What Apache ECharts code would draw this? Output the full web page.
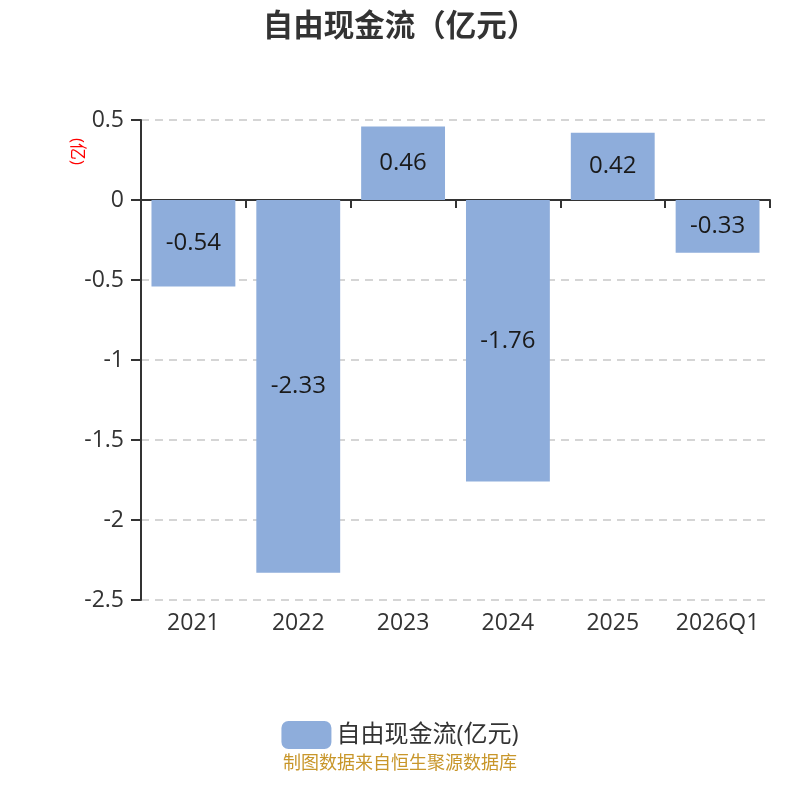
<!DOCTYPE html>
<html>
<head>
<meta charset="utf-8">
<script src="https://cdn.jsdelivr.net/npm/echarts@6/dist/echarts.min.js"></script>
<style>html,body{margin:0;padding:0;background:#fff}#c{width:800px;height:800px}</style>
</head>
<body>
<div id="c"></div>
<script>
var categories = ['2021', '2022', '2023', '2024', '2025', '2026Q1'];
var values = [-0.54, -2.33, 0.46, -1.76, 0.42, -0.33];
var seriesName = '自由现金流(亿元)';
var yMin = -2.5, yMax = 0.5, yStep = 0.5;

var chart = echarts.init(document.getElementById('c'));
var font = '"Open Sans","Noto Sans CJK SC",sans-serif';
chart.setOption({
  animation: false,
  textStyle: { fontFamily: font },
  title: {
    text: '自由现金流（亿元）',
    left: 'center', top: 4,
    textStyle: { fontSize: 30.5, fontWeight: 'bold', color: '#333', fontFamily: '"Noto Sans CJK SC",sans-serif' }
  },
  legend: {
    bottom: 46, left: 'center',
    itemWidth: 50, itemHeight: 28, itemGap: 10,
    textStyle: { fontSize: 24, color: '#333', fontFamily: font },
    data: [seriesName]
  },
  grid: { left: 141, right: 30, top: 120, bottom: 200, containLabel: false },
  xAxis: [{
    type: 'category', data: categories,
    axisLine: { onZero: true, lineStyle: { color: '#333', width: 2 } },
    axisTick: { show: true, length: 8, lineStyle: { color: '#333', width: 2 } },
    axisLabel: { show: false }
  }, {
    type: 'category', data: categories, position: 'bottom',
    axisLine: { show: false, onZero: false }, axisTick: { show: false },
    axisLabel: { fontSize: 23, color: '#333', margin: 12, interval: 0, fontFamily: font }
  }],
  yAxis: {
    type: 'value', min: yMin, max: yMax, interval: yStep,
    axisLine: { show: true, lineStyle: { color: '#333', width: 2 } },
    axisTick: { show: true, length: 10, lineStyle: { color: '#333', width: 2 } },
    axisLabel: { fontSize: 23, color: '#333', margin: 17, fontFamily: font },
    splitLine: { lineStyle: { type: [8, 6], color: '#c8c8c8', width: 1.5 } }
  },
  series: [{
    name: seriesName, type: 'bar', data: values,
    barCategoryGap: '20%',
    itemStyle: { color: '#8eaddb' },
    label: { show: true, position: 'inside', fontSize: 24, color: '#1a1a1a', fontFamily: font }
  }],
  graphic: [{
    type: 'text', x: 85, y: 138, rotation: -Math.PI / 2,
    style: { text: '(亿)', fill: '#ff0000', font: '17px ' + font }
  }, {
    type: 'text', left: 'center', top: 753,
    style: { text: '制图数据来自恒生聚源数据库', fill: '#c8962a', font: '18px "Noto Sans CJK SC",sans-serif' }
  }]
});
</script>
</body>
</html>
